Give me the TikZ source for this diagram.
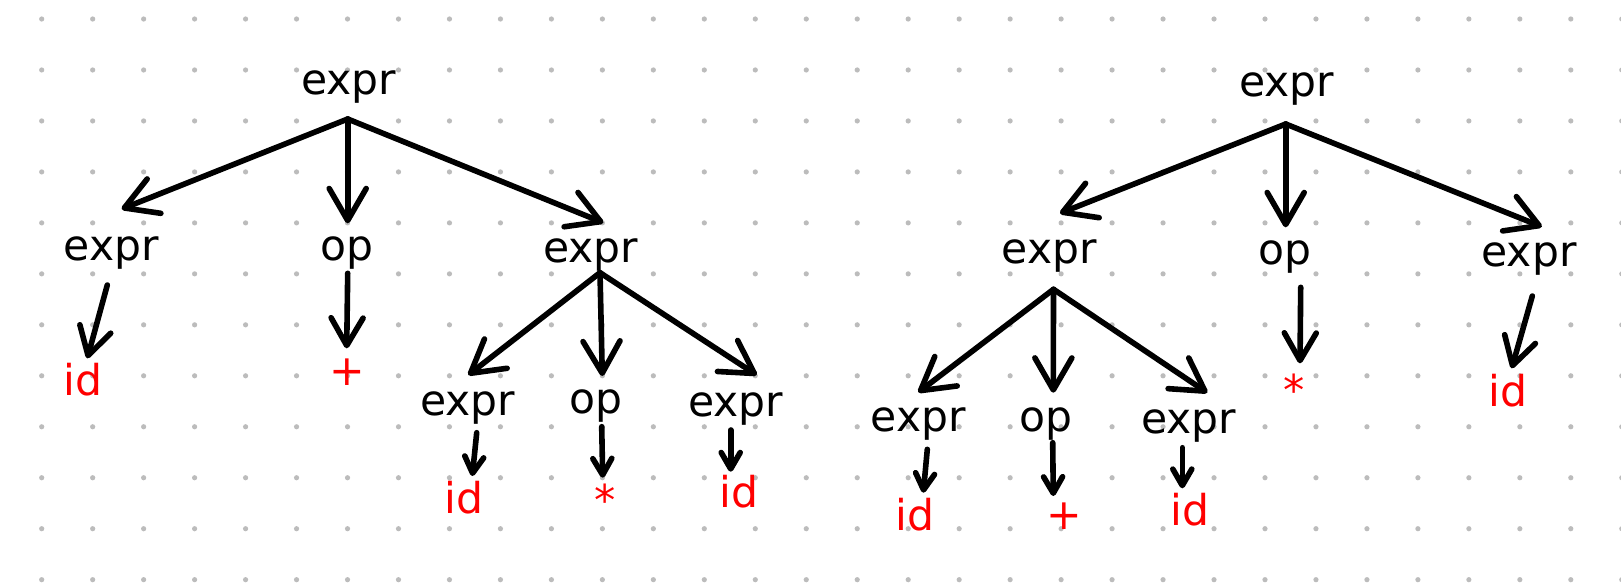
\documentclass[tikz,border=0pt]{standalone}
\usepackage{fontspec}
\newfontfamily\djv{DejaVu Sans}
\usetikzlibrary{arrows.meta}
\definecolor{dotgray}{RGB}{188,188,188}
\definecolor{leafred}{RGB}{255,0,0}
\begin{document}
\begin{tikzpicture}[x=0.5pt,y=-0.5pt,
  lbl/.style={font=\djv\fontsize{21.25pt}{25pt}\selectfont, inner sep=0pt, anchor=base, text=black},
  leaf/.style={lbl, text=leafred},
  conn/.style={line width=2.8pt, line cap=round, line join=round, draw=black},
  arrL/.style={conn, -{Straight Barb[length=16pt,width=18.5pt,line cap=round,line join=round]}},
  arrM/.style={conn, -{Straight Barb[length=13.8pt,width=16pt,line cap=round,line join=round]}},
  arrS/.style={conn, -{Straight Barb[length=8.2pt,width=9.5pt,line cap=round,line join=round]}},
]
\fill[white] (0,0) rectangle (1621,585);
\useasboundingbox (0,0) rectangle (1621,585);
% dot grid
\foreach \i in {0,...,31}{
  \foreach \j in {0,...,11}{
    \fill[dotgray] ({41.7+50.97*\i},{19+50.97*\j}) circle[radius=2.6];
  }
}
% ---------------- tree 1 ----------------
\node[lbl] (R1) at (348.5,94.3) {expr};
\node[lbl] (A) at (111.3,260) {expr};
\node[lbl] (B) at (347.2,260) {op};
\node[lbl] (C) at (590.8,262.7) {expr};
\node[leaf] (A1) at (83.3,395) {id};
\node[leaf] (B1) at (347.3,385.7) {+};
\node[lbl] (C1) at (467.5,415) {expr};
\node[lbl] (C2) at (595.5,413.3) {op};
\node[lbl] (C3) at (735.5,416.7) {expr};
\node[leaf] (C1a) at (463.7,513.3) {id};
\node[leaf] (C2a) at (605.5,515.6) {*};
\node[leaf] (C3a) at (739.2,507.3) {id};
% connector ends
\coordinate (R1o) at (347.7,119);
\coordinate (Ai) at (121.7,209);
\coordinate (Bi) at (347.7,223.3);
\coordinate (Ci) at (603.3,222.7);
\coordinate (Ao) at (107.3,285);
\coordinate (A1i) at (87.3,358.3);
\coordinate (Bo) at (347.7,273.3);
\coordinate (B1i) at (346.7,348.3);
\coordinate (Co) at (600,272.7);
\coordinate (C1i) at (468.3,375);
\coordinate (C2i) at (602.3,376);
\coordinate (C3i) at (756.7,375);
\coordinate (C1o) at (476.7,432.7);
\coordinate (C1ai) at (472.3,476);
\coordinate (C2o) at (601.7,426.7);
\coordinate (C2ai) at (602.7,477.7);
\coordinate (C3o) at (730.7,430);
\coordinate (C3ai) at (730.7,471.7);
\draw[arrL] (R1o) -- (Ai);
\draw[arrL] (R1o) -- (Bi);
\draw[arrL] (R1o) -- (Ci);
\draw[arrM] (Ao) -- (A1i);
\draw[arrM] (Bo) -- (B1i);
\draw[arrL] (Co) -- (C1i);
\draw[arrL] (Co) -- (C2i);
\draw[arrL] (Co) -- (C3i);
\draw[arrS] (C1o) -- (C1ai);
\draw[arrS] (C2o) -- (C2ai);
\draw[arrS] (C3o) -- (C3ai);
% ---------------- tree 2 ----------------
\node[lbl] (R2) at (1286.5,96) {expr};
\node[lbl] (D) at (1049.3,263.3) {expr};
\node[lbl] (E) at (1285,264) {op};
\node[lbl] (F) at (1529,266.7) {expr};
\node[lbl] (D1) at (918.2,431.7) {expr};
\node[lbl] (D2) at (1046.2,431.7) {op};
\node[lbl] (D3) at (1188.5,433.3) {expr};
\node[leaf] (D1a) at (914.7,530) {id};
\node[leaf] (D2a) at (1064.3,529.5) {+};
\node[leaf] (D3a) at (1190.2,525) {id};
\node[leaf] (E1) at (1294.3,405) {*};
\node[leaf] (F1) at (1507.8,406.7) {id};
\coordinate (R2o) at (1285.7,124);
\coordinate (Di) at (1060,213.3);
\coordinate (Ei) at (1285.7,227.3);
\coordinate (Fi) at (1541.8,226.7);
\coordinate (Do) at (1053.5,289.3);
\coordinate (D1i) at (918.3,392.3);
\coordinate (D2i) at (1053.3,392.7);
\coordinate (D3i) at (1207.3,392.7);
\coordinate (D1o) at (927.3,449.3);
\coordinate (D1ai) at (923.3,492.7);
\coordinate (D2o) at (1052.7,442.7);
\coordinate (D2ai) at (1053.3,496);
\coordinate (D3o) at (1182.3,447.7);
\coordinate (D3ai) at (1182.3,488.3);
\coordinate (Eo) at (1300.7,287.3);
\coordinate (E1i) at (1300,363.3);
\coordinate (Fo) at (1532.3,296);
\coordinate (F1i) at (1511.7,368.3);
\draw[arrL] (R2o) -- (Di);
\draw[arrL] (R2o) -- (Ei);
\draw[arrL] (R2o) -- (Fi);
\draw[arrL] (Do) -- (D1i);
\draw[arrL] (Do) -- (D2i);
\draw[arrL] (Do) -- (D3i);
\draw[arrS] (D1o) -- (D1ai);
\draw[arrS] (D2o) -- (D2ai);
\draw[arrS] (D3o) -- (D3ai);
\draw[arrM] (Eo) -- (E1i);
\draw[arrM] (Fo) -- (F1i);
\end{tikzpicture}
\end{document}
